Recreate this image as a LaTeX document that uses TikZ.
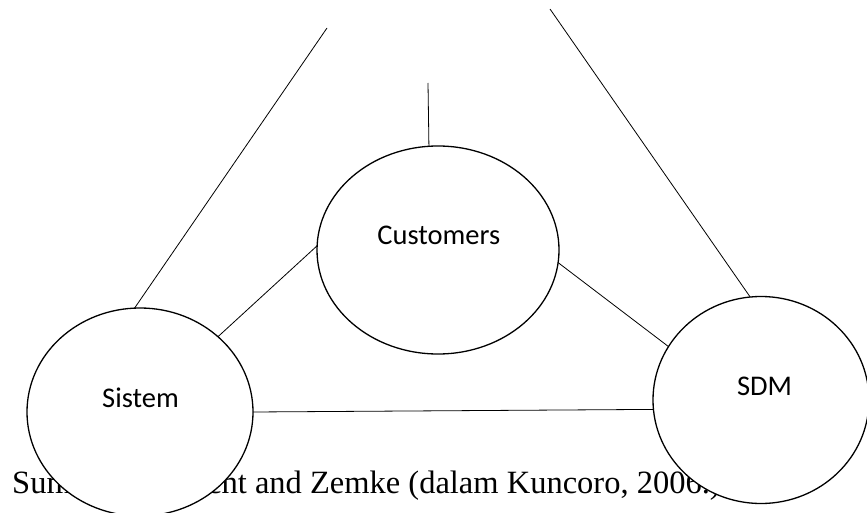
\documentclass[tikz,border=0pt]{standalone}
\usepackage{fontspec}
\setmainfont{Liberation Serif}
\newfontfamily\calib{Carlito}
\usetikzlibrary{shapes.geometric}
\tikzset{
  circ/.style={ellipse, draw=black, fill=white, line width=1.3pt, inner sep=0pt, outer sep=0pt},
  lbl/.style={anchor=base, inner sep=0pt, font=\calib\fontsize{28.5pt}{32pt}\selectfont},
  conn/.style={draw=black, line width=0.8pt}
}
\begin{document}
\begin{tikzpicture}[x=1pt,y=-1pt]
\useasboundingbox (0,0) rectangle (867,513);
\clip (0,0) rectangle (867,513);
\node[anchor=base west, inner sep=0pt, font=\fontsize{32.5pt}{36pt}\selectfont] (src) at (12,493) {Sumber: Albrecht and Zemke (dalam Kuncoro, 2006.)};
\node[circ, minimum width=242pt, minimum height=208pt] (cust) at (438,250) {};
\node[circ, minimum width=226pt, minimum height=208pt] (sis) at (140,412) {};
\node[circ, minimum width=216pt, minimum height=207pt] (sdm) at (761,400) {};
\node[lbl] (tcust) at (438.8,244) {Customers};
\node[lbl] (tsis) at (140.5,407) {Sistem};
\node[lbl] (tsdm) at (764.5,395) {SDM};
\coordinate (ctop) at (428,83);
\coordinate (ltop) at (327,28);
\coordinate (rtop) at (550,9);
\draw[conn] (ctop) -- (cust.95.5);
\draw[conn] (ltop) -- (sis.93.4);
\draw[conn] (rtop) -- (sdm.96);
\draw[conn] (cust.178.6) -- (sis.44);
\draw[conn] (cust.-6.2) -- (sdm.150.1);
\draw[conn] (sis.-0.5) -- (sdm.185.2);
\end{tikzpicture}
\end{document}
